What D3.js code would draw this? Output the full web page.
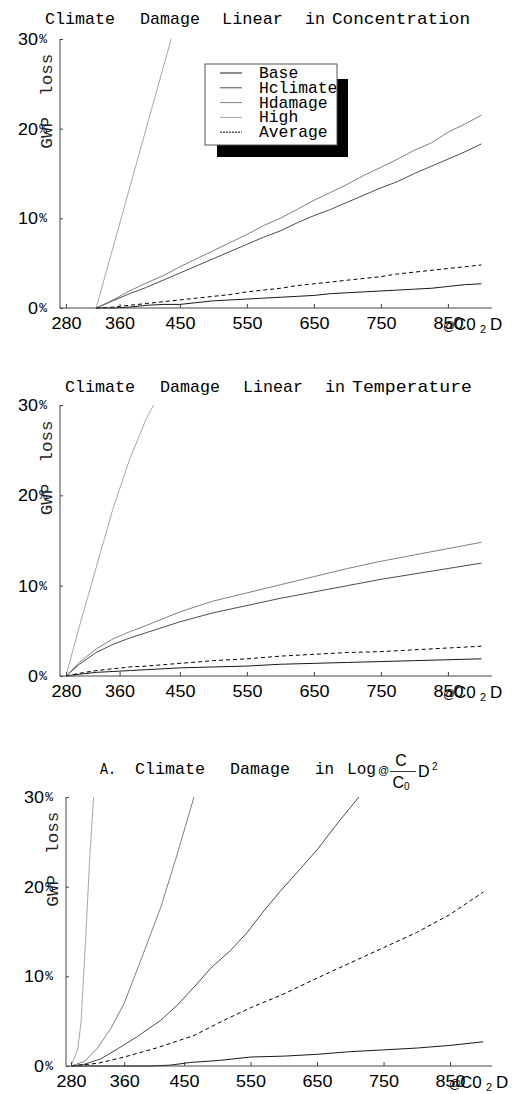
<!DOCTYPE html>
<html><head><meta charset="utf-8">
<script src="https://cdn.jsdelivr.net/npm/d3@7"></script>
<style>body{margin:0;background:#fff} svg{display:block} text{white-space:pre}</style>
</head><body><svg id="c" width="530" height="1094"></svg>
<script>
// ---------- data ----------
const seriesNames = ["Base", "Hclimate", "Hdamage", "High", "Average"];
const xTickValues = [280, 360, 450, 550, 650, 750, 850];
const yTickValues = [0, 10, 20, 30];

// Panel 1: linear in concentration
const p1Ppm = [325,350,375,400,425,450,475,500,525,550,575,600,625,650,675,700,725,750,775,800,825,850,875,900];
const p1Base     = [0,0,0.1,0.3,0.4,0.4,0.6,0.8,0.9,1.0,1.1,1.2,1.3,1.4,1.6,1.7,1.8,1.9,2.0,2.1,2.2,2.4,2.6,2.7];
const p1Hclimate = [0,0.8,1.6,2.3,3.1,3.9,4.7,5.5,6.3,7.1,7.9,8.6,9.5,10.3,11.0,11.8,12.6,13.4,14.1,15.0,15.8,16.6,17.4,18.3];
const p1Hdamage  = [0,0.9,1.9,2.8,3.6,4.6,5.5,6.4,7.3,8.2,9.2,10.0,11.0,12.0,12.9,13.8,14.8,15.7,16.6,17.6,18.4,19.6,20.5,21.5];
const p1Average  = [0,0.1,0.3,0.5,0.7,0.9,1.1,1.3,1.5,1.8,2.0,2.2,2.5,2.7,2.9,3.1,3.3,3.5,3.8,4.0,4.2,4.4,4.6,4.8];
const p1HighPpm  = [325,350,375,400,425,450];
const p1High     = [0,6.7,13.4,20.1,26.8,33.5];

// Panel 2: linear in temperature
const p2Ppm = [280,300,325,350,375,400,450,500,550,600,650,700,750,800,850,900];
const p2Base     = [0,0.2,0.4,0.5,0.6,0.7,0.9,1.0,1.1,1.3,1.4,1.5,1.6,1.7,1.8,1.9];
const p2Hclimate = [0,1.3,2.6,3.5,4.2,4.8,6.0,7.0,7.8,8.6,9.3,10.0,10.7,11.3,11.9,12.5];
const p2Hdamage  = [0,1.5,3.0,4.1,4.9,5.6,7.1,8.3,9.2,10.1,11.0,11.9,12.7,13.4,14.1,14.8];
const p2Average  = [0,0.3,0.6,0.8,1.0,1.1,1.4,1.7,1.9,2.2,2.4,2.6,2.7,2.9,3.1,3.3];
const p2HighPpm  = [280,300,325,350,375,400,425];
const p2High     = [0,5.5,12,18.5,24,28.5,32];

// Panel 3: log(C/C0)^2
const p3BasePpm     = [280,400,430,460,500,550,600,650,700,750,800,850,900];
const p3Base        = [0,0,0.1,0.4,0.6,1.0,1.1,1.3,1.6,1.8,2.0,2.3,2.7];
const p3AveragePpm  = [280,320,360,408,465,510,550,596,650,700,750,800,850,900];
const p3Average     = [0,0.3,1.0,2.0,3.4,5.1,6.5,7.9,9.8,11.5,13.2,14.9,16.9,19.4];
const p3HclimatePpm = [280,300,325,352,380,415,440,465,490,520,545,570,596,625,651,680,713];
const p3Hclimate    = [0,0.2,0.8,2.0,3.3,5.1,6.8,8.8,10.9,12.9,14.9,17.3,19.6,22,24.2,27,30];
const p3HdamagePpm  = [280,300,320,340,360,385,415,438,465];
const p3Hdamage     = [0,0.5,2.0,4.2,7.0,11.8,17.7,23.2,30];
const p3HighPpm     = [280,290,295,302,308,314,320];
const p3High        = [0,1.8,4.8,14,23,30,37];

// ---------- styles ----------
const colors = {Base:"#1a1a1a", Hclimate:"#4d4d4d", Hdamage:"#808080", High:"#a8a8a8", Average:"#000"};
const dashes = {Average:"4,3"};
const MONO = "'Liberation Mono', 'Courier New', monospace";
const SANS = "'Liberation Sans', Arial, sans-serif";

const svg = d3.select("#c");

function zip(xs, ys){ return xs.map((x,i)=>({x, y: ys[i]})); }

function drawPanel(cfg, idx){
  const g = svg.append("g");
  const x = d3.scaleLinear().domain([280, 900]).range([cfg.x280, cfg.x280 + 620*cfg.xPer]);
  const y = d3.scaleLinear().domain([0, 30]).range([cfg.y0, cfg.y30]);

  const cid = "clip" + idx;
  svg.append("defs").append("clipPath").attr("id", cid)
    .append("rect").attr("x", cfg.axisX).attr("y", cfg.y30).attr("width", cfg.axisRight - cfg.axisX).attr("height", cfg.y0 - cfg.y30 + 1);

  const line = d3.line().x(d=>x(d.x)).y(d=>y(d.y));
  const lg = g.append("g").attr("clip-path", `url(#${cid})`);
  cfg.series.forEach(s=>{
    lg.append("path").attr("d", line(zip(s.ppm, s.vals)))
      .attr("fill","none").attr("stroke", colors[s.name]).attr("stroke-width", 1)
      .attr("stroke-dasharray", dashes[s.name] || null);
  });

  g.append("line").attr("x1", cfg.axisX).attr("x2", cfg.axisX).attr("y1", cfg.y30).attr("y2", cfg.y0)
    .attr("stroke", "#444").attr("stroke-width", 1);
  g.append("line").attr("x1", cfg.axisX).attr("x2", cfg.axisRight).attr("y1", cfg.y0).attr("y2", cfg.y0)
    .attr("stroke", "#444").attr("stroke-width", 1);

  // x axis ticks & labels
  const xa = d3.axisBottom(x).tickValues(xTickValues).tickSizeInner(-4).tickSizeOuter(0).tickPadding(9);
  const xg = g.append("g").attr("transform", `translate(0,${cfg.y0})`).call(xa);
  xg.select(".domain").remove();
  xg.selectAll(".tick line").attr("stroke", "#444");
  xg.selectAll(".tick text").attr("font-family", SANS).attr("font-size", 17).attr("fill", "#000")
    .attr("textLength", 30).attr("lengthAdjust", "spacingAndGlyphs");

  // y ticks
  const ya = d3.axisLeft(y).tickValues(yTickValues).tickSizeInner(-3).tickSizeOuter(0).tickFormat("");
  const yg = g.append("g").attr("transform", `translate(${cfg.axisX},0)`).call(ya);
  yg.select(".domain").remove();
  yg.selectAll(".tick line").attr("stroke", "#444");

  // y labels: number + small percent sign
  yTickValues.forEach(v=>{
    const s = String(v);
    const right = cfg.axisX - 13;
    g.append("text").attr("x", right - 9).attr("y", y(v) + 6).attr("text-anchor", "end")
      .attr("font-family", SANS).attr("font-size", 17).attr("fill", "#000")
      .attr("textLength", s.length*10).attr("lengthAdjust", "spacingAndGlyphs").text(s);
    g.append("text").attr("x", right).attr("y", y(v) + 4).attr("text-anchor", "end")
      .attr("font-family", MONO).attr("font-size", 13).attr("fill", "#000").text("%");
  });

  // y axis title
  g.append("text").attr("transform", `translate(${cfg.axisX - 8},${y(20) + 20}) rotate(-90)`)
    .attr("font-family", MONO).attr("font-size", 16).attr("fill", "#222")
    .attr("textLength", 95).attr("lengthAdjust", "spacingAndGlyphs").text("GWP  loss");

  // x axis label @CO2D
  const base = cfg.y0 + 22;
  const ax = cfg.axisX + 383;
  g.append("text").attr("x", ax).attr("y", base).attr("font-family", SANS).attr("font-size", 12).attr("fill", "#000").text("@");
  g.append("text").attr("x", ax + 11).attr("y", base).attr("font-family", SANS).attr("font-size", 17).attr("fill", "#000").text("C0");
  g.append("text").attr("x", ax + 37).attr("y", base + 3).attr("font-family", SANS).attr("font-size", 11).attr("fill", "#000").text("2");
  g.append("text").attr("x", ax + 47).attr("y", base).attr("font-family", SANS).attr("font-size", 17).attr("fill", "#000").text("D");

  // title words
  cfg.title.forEach(w=>{
    g.append("text").attr("x", w[1]).attr("y", cfg.titleY)
      .attr("font-family", MONO).attr("font-size", 17).attr("fill", "#000")
      .attr("textLength", w[2]-w[1]).attr("lengthAdjust", "spacingAndGlyphs").text(w[0]);
  });
  return {g, x, y};
}

// Panel 1
drawPanel({
  axisX: 60, axisRight: 492, x280: 66, xPer: 0.67, y0: 308, y30: 39, titleY: 24,
  title: [["Climate",45,115],["Damage",140,200],["Linear",222,283],["in",305,325],["Concentration",332,470]],
  series: [
    {name:"Base", ppm:p1Ppm, vals:p1Base},
    {name:"Hclimate", ppm:p1Ppm, vals:p1Hclimate},
    {name:"Hdamage", ppm:p1Ppm, vals:p1Hdamage},
    {name:"High", ppm:p1HighPpm, vals:p1High},
    {name:"Average", ppm:p1Ppm, vals:p1Average}
  ]
}, 1);

// legend in panel 1
(function(){
  const lg = svg.append("g");
  lg.append("rect").attr("x", 217).attr("y", 79).attr("width", 131).attr("height", 78).attr("fill", "#000");
  lg.append("rect").attr("x", 205).attr("y", 64).attr("width", 132).attr("height", 81)
    .attr("fill", "#fff").attr("stroke", "#555").attr("stroke-width", 1);
  seriesNames.forEach((n,i)=>{
    const yy = 73 + i*14.8;
    lg.append("line").attr("x1", 220).attr("x2", 242).attr("y1", yy).attr("y2", yy)
      .attr("stroke", colors[n]).attr("stroke-width", 1).attr("stroke-dasharray", n==="Average" ? "2,1" : null);
    lg.append("text").attr("x", 259).attr("y", yy + 5).attr("font-family", MONO).attr("font-size", 17)
      .attr("fill", "#000").attr("textLength", n.length*9.8).attr("lengthAdjust", "spacingAndGlyphs").text(n);
  });
})();

// Panel 2
drawPanel({
  axisX: 60, axisRight: 492, x280: 66, xPer: 0.67, y0: 676, y30: 405, titleY: 392,
  title: [["Climate",65,135],["Damage",160,220],["Linear",243,303],["in",325,345],["Temperature",352,472]],
  series: [
    {name:"Base", ppm:p2Ppm, vals:p2Base},
    {name:"Hclimate", ppm:p2Ppm, vals:p2Hclimate},
    {name:"Hdamage", ppm:p2Ppm, vals:p2Hdamage},
    {name:"High", ppm:p2HighPpm, vals:p2High},
    {name:"Average", ppm:p2Ppm, vals:p2Average}
  ]
}, 2);

// Panel 3
drawPanel({
  axisX: 66, axisRight: 492, x280: 71, xPer: 0.665, y0: 1066, y30: 797, titleY: 774,
  title: [["A.",100,116],["Climate",135,205],["Damage",230,290],["in",315,334],["Log",347,376]],
  series: [
    {name:"Base", ppm:p3BasePpm, vals:p3Base},
    {name:"Hclimate", ppm:p3HclimatePpm, vals:p3Hclimate},
    {name:"Hdamage", ppm:p3HdamagePpm, vals:p3Hdamage},
    {name:"High", ppm:p3HighPpm, vals:p3High},
    {name:"Average", ppm:p3AveragePpm, vals:p3Average}
  ]
}, 3);

// fraction part of panel 3 title: @ C/C0 D²
(function(){
  const t = svg.append("g");
  t.append("text").attr("x", 378).attr("y", 774).attr("font-family", SANS).attr("font-size", 11).attr("fill","#000").text("@");
  t.append("text").attr("x", 401).attr("y", 766).attr("font-family", SANS).attr("font-size", 16).attr("text-anchor","middle").attr("fill","#000").text("C");
  t.append("line").attr("x1", 390).attr("x2", 416).attr("y1", 771.5).attr("y2", 771.5).attr("stroke","#333");
  const d = t.append("text").attr("x", 401).attr("y", 788).attr("font-family", SANS).attr("font-size", 16).attr("text-anchor","middle").attr("fill","#000");
  d.append("tspan").text("C");
  d.append("tspan").attr("font-size", 10).attr("dy", 2).text("0");
  t.append("text").attr("x", 418).attr("y", 777).attr("font-family", SANS).attr("font-size", 16).attr("fill","#000").text("D");
  t.append("text").attr("x", 432).attr("y", 770).attr("font-family", SANS).attr("font-size", 10).attr("fill","#000").text("2");
})();
</script>
</body></html>
